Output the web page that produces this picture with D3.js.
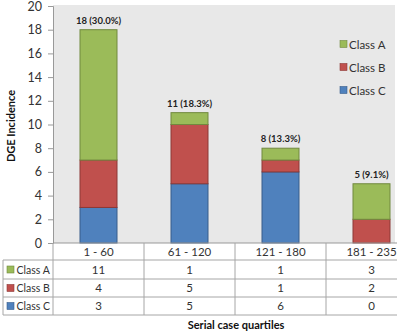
<!DOCTYPE html>
<html><head><meta charset="utf-8">
<script src="https://cdn.jsdelivr.net/npm/d3@7"></script>
<style>body{margin:0;background:#fff}svg{display:block}</style>
</head><body>
<script>
const categories = ["1 - 60", "61 - 120", "121 - 180", "181 - 235"];
const seriesNames = ["Class C", "Class B", "Class A"];
const classA = [11, 1, 1, 3];
const classB = [4, 5, 1, 2];
const classC = [3, 5, 6, 0];
const barLabels = ["18 (30.0%)", "11 (18.3%)", "8 (13.3%)", "5 (9.1%)"];
const yTicks = [0, 2, 4, 6, 8, 10, 12, 14, 16, 18, 20];

const colors = {"Class A": "#9bbb59", "Class B": "#c0504d", "Class C": "#4f81bd"};
const strokes = {"Class A": "#71893f", "Class B": "#8c3836", "Class C": "#385d8a"};
const values = {"Class A": classA, "Class B": classB, "Class C": classC};

const W = 397, H = 332;
const svg = d3.select("body").append("svg").attr("width", W).attr("height", H);
const font = "Lato, 'Open Sans', sans-serif";

const x = d3.scaleBand().domain(categories).range([53, 417]).paddingInner(0).paddingOuter(0);
const y = d3.scaleLinear().domain([0, 20]).range([243, 6]);

// plot background
svg.append("rect").attr("x", 53).attr("y", 5).attr("width", 395 - 53).attr("height", 243 - 5).attr("fill", "#e8e8e8");

// stack
const rows = categories.map((c, i) => ({cat: c, "Class A": classA[i], "Class B": classB[i], "Class C": classC[i]}));
const stack = d3.stack().keys(seriesNames)(rows);
const bw = 37;
stack.forEach(layer => {
  svg.append("g").selectAll("rect").data(layer).join("rect")
    .attr("x", d => x(d.data.cat) + x.bandwidth() / 2 - bw / 2)
    .attr("y", d => y(d[1]))
    .attr("width", bw)
    .attr("height", d => y(d[0]) - y(d[1]))
    .attr("fill", colors[layer.key])
    .attr("stroke", strokes[layer.key])
    .attr("stroke-width", 1)
    .style("display", d => d[1] - d[0] > 0 ? null : "none");
});

// bar labels
svg.append("g").selectAll("text").data(rows).join("text")
  .attr("x", d => x(d.cat) + x.bandwidth() / 2)
  .attr("y", (d, i) => y(classA[i] + classB[i] + classC[i]) - 6)
  .attr("text-anchor", "middle")
  .attr("font-family", font).attr("font-weight", "bold").attr("font-size", 9.5)
  .attr("fill", "#222")
  .text((d, i) => barLabels[i]);

// y axis
const yAxis = d3.axisLeft(y).tickValues(yTicks).tickSize(5).tickPadding(6);
const ga = svg.append("g").attr("transform", "translate(53,0)").call(yAxis);
ga.select(".domain").attr("stroke", "#999");
ga.selectAll(".tick line").attr("stroke", "#999");
ga.selectAll(".tick text").attr("font-family", font).attr("font-size", 12.5).attr("fill", "#333");

// y title
svg.append("text")
  .attr("transform", "translate(15,126) rotate(-90)")
  .attr("text-anchor", "middle")
  .attr("font-family", font).attr("font-weight", "bold").attr("font-size", 11)
  .attr("fill", "#111")
  .text("DGE Incidence");

// legend
const legendKeys = ["Class A", "Class B", "Class C"];
const lg = svg.append("g");
legendKeys.forEach((k, i) => {
  const cy = 44 + i * 23;
  lg.append("rect").attr("x", 340).attr("y", cy - 3.5).attr("width", 7).attr("height", 7)
    .attr("fill", colors[k]).attr("stroke", strokes[k]).attr("stroke-width", 0.6);
  lg.append("text").attr("x", 349).attr("y", cy + 4.5)
    .attr("font-family", font).attr("font-size", 11.5).attr("fill", "#333").text(k);
});

// data table
const lineC = "#a6a6a6";
const rowY = [243, 260, 279, 297, 315];
const tg = svg.append("g");
tg.append("line").attr("x1", 53).attr("x2", 417).attr("y1", 243).attr("y2", 243).attr("stroke", "#999");
[260, 279, 297, 315].forEach(yy => {
  tg.append("line").attr("x1", 3).attr("x2", 417).attr("y1", yy).attr("y2", yy).attr("stroke", lineC);
});
categories.forEach(c => {
  tg.append("line").attr("x1", x(c)).attr("x2", x(c)).attr("y1", 243).attr("y2", 315).attr("stroke", lineC);
});
tg.append("line").attr("x1", 3).attr("x2", 3).attr("y1", 260).attr("y2", 315).attr("stroke", lineC);

categories.forEach(c => {
  tg.append("text").attr("x", x(c) + x.bandwidth() / 2).attr("y", 256)
    .attr("text-anchor", "middle").attr("font-family", font).attr("font-size", 11.5).attr("fill", "#333").text(c);
});
legendKeys.forEach((k, r) => {
  const top = rowY[r + 1], bot = rowY[r + 2];
  const cy = (top + bot) / 2;
  tg.append("rect").attr("x", 7).attr("y", cy - 3.5).attr("width", 7).attr("height", 7)
    .attr("fill", colors[k]).attr("stroke", strokes[k]).attr("stroke-width", 0.6);
  tg.append("text").attr("x", 16.5).attr("y", cy + 4.2)
    .attr("font-family", font).attr("font-size", 10.5).attr("fill", "#333").text(k);
  categories.forEach((c, i) => {
    tg.append("text").attr("x", x(c) + x.bandwidth() / 2).attr("y", cy + 4.2)
      .attr("text-anchor", "middle").attr("font-family", font).attr("font-size", 11.5).attr("fill", "#333")
      .text(values[k][i]);
  });
});

// x title
svg.append("text").attr("x", 236).attr("y", 329)
  .attr("text-anchor", "middle").attr("font-family", font).attr("font-weight", "bold").attr("font-size", 11)
  .attr("fill", "#111").text("Serial case quartiles");
</script>
</body></html>
